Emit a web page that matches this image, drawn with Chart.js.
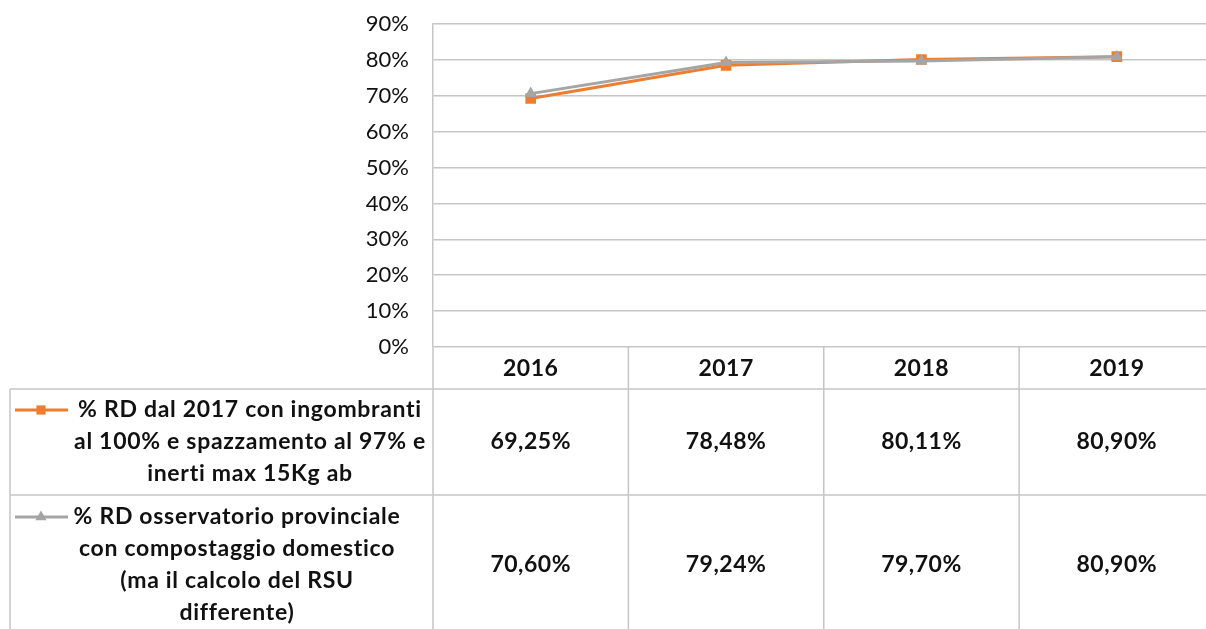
<!DOCTYPE html>
<html>
<head>
<meta charset="utf-8">
<script src="https://cdn.jsdelivr.net/npm/chart.js@4/dist/chart.umd.min.js"></script>
<style>
  html, body { margin: 0; padding: 0; background: #fff; overflow: hidden; }
  #wrap { position: absolute; left: 0; top: 0; width: 1222px; height: 629px; }
</style>
</head>
<body>
<div id="wrap"><canvas id="canvas"></canvas></div>
<script>
var years = ["2016", "2017", "2018", "2019"];
var rdIngombranti = [69.25, 78.48, 80.11, 80.90];
var rdOsservatorio = [70.60, 79.24, 79.70, 80.90];
var labelIngombranti = ["% RD dal 2017 con ingombranti", "al 100% e spazzamento al 97% e", "inerti max 15Kg ab"];
var labelOsservatorio = ["% RD osservatorio provinciale", "con compostaggio domestico", "(ma il calcolo del RSU", "differente)"];
var yTicks = [0, 10, 20, 30, 40, 50, 60, 70, 80, 90];

var ORANGE = "#ED7D31";
var GREY = "#A5A5A5";
var LINE = "#c6c6c6";

function fmt(v) {
  return v.toFixed(2).replace(".", ",") + "%";
}

// draws the Excel-like data table under the plot
var dataTable = {
  id: "dataTable",
  afterDraw: function (chart) {
    var ctx = chart.ctx;
    var area = chart.chartArea;
    var x = chart.scales.x;
    var half = (x.getPixelForValue(1) - x.getPixelForValue(0)) / 2;
    var tableLeft = 10;
    var bottom = chart.height;
    var rows = [
      { top: area.bottom, h: 42 },
      { top: area.bottom + 42, h: 106 },
      { top: area.bottom + 148, h: 140 }
    ];

    ctx.save();
    ctx.strokeStyle = LINE;
    ctx.lineWidth = 1.5;
    ctx.beginPath();
    ctx.moveTo(tableLeft, rows[1].top); ctx.lineTo(area.right, rows[1].top);
    ctx.moveTo(tableLeft, rows[2].top); ctx.lineTo(area.right, rows[2].top);
    ctx.moveTo(tableLeft, rows[1].top); ctx.lineTo(tableLeft, bottom);
    ctx.moveTo(area.left, area.bottom); ctx.lineTo(area.left, bottom);
    for (var i = 0; i < years.length; i++) {
      var xr = x.getPixelForValue(i) + half;
      ctx.moveTo(xr, area.bottom); ctx.lineTo(xr, bottom);
    }
    ctx.stroke();

    ctx.fillStyle = "#111";
    ctx.textAlign = "center";
    ctx.textBaseline = "middle";
    ctx.font = "bold 23px Lato";
    ctx.letterSpacing = "0.5px";
    years.forEach(function (yr, i) {
      var cx = x.getPixelForValue(i);
      ctx.fillText(yr, cx, rows[0].top + rows[0].h / 2 + 1);
      ctx.fillText(fmt(rdIngombranti[i]), cx, rows[1].top + rows[1].h / 2);
      ctx.fillText(fmt(rdOsservatorio[i]), cx, rows[2].top + rows[2].h / 2);
    });

    // legend cells
    function legendCell(lines, row, textX, color, style) {
      var lh = 32;
      var y0 = row.top + row.h / 2 - (lines.length - 1) * lh / 2;
      lines.forEach(function (t, k) {
        ctx.fillStyle = "#111";
        ctx.fillText(t, textX, y0 + k * lh);
      });
      ctx.strokeStyle = color;
      ctx.fillStyle = color;
      ctx.lineWidth = 3;
      ctx.beginPath();
      ctx.moveTo(15, y0); ctx.lineTo(68, y0);
      ctx.stroke();
      Chart.helpers.drawPoint(ctx, { pointStyle: style, radius: 6.5, borderWidth: 0 }, 41, y0);
    }
    ctx.letterSpacing = "0.7px";
    legendCell(labelIngombranti, rows[1], 250, ORANGE, "rect");
    legendCell(labelOsservatorio, rows[2], 237, GREY, "triangle");
    ctx.restore();
  }
};

var ctx = document.getElementById("canvas");

var chart = new Chart(ctx, {
  type: "line",
  data: {
    labels: years,
    datasets: [
      {
        label: labelIngombranti.join(" "),
        data: rdIngombranti,
        borderColor: ORANGE,
        backgroundColor: ORANGE,
        borderWidth: 3,
        pointStyle: "rect",
        pointRadius: 7.5,
        pointBorderWidth: 0,
        order: 2
      },
      {
        label: labelOsservatorio.join(" "),
        data: rdOsservatorio,
        borderColor: GREY,
        backgroundColor: GREY,
        borderWidth: 3,
        pointStyle: "triangle",
        pointRadius: 7,
        pointBorderWidth: 0,
        order: 1
      }
    ]
  },
  options: {
    responsive: true,
    maintainAspectRatio: false,
    animation: false,
    layout: { padding: { top: 24, bottom: 282, left: 0, right: 1 } },
    plugins: {
      legend: { display: false },
      tooltip: { enabled: false }
    },
    scales: {
      x: {
        display: false,
        offset: true
      },
      y: {
        min: 0,
        max: 90,
        afterBuildTicks: function (scale) {
          scale.ticks = yTicks.map(function (v) { return { value: v }; });
        },
        afterFit: function (scale) { scale.width = 433; },
        grid: { color: LINE, lineWidth: 1.5, drawTicks: true, tickLength: 24, tickColor: "rgba(0,0,0,0)" },
        border: { display: true, color: LINE, width: 1.5 },
        ticks: {
          padding: 0,
          color: "#111",
          font: { family: "Lato", size: 22 },
          callback: function (v) { return v + "%"; }
        }
      }
    }
  },
  plugins: [dataTable]
});
</script>
</body>
</html>
